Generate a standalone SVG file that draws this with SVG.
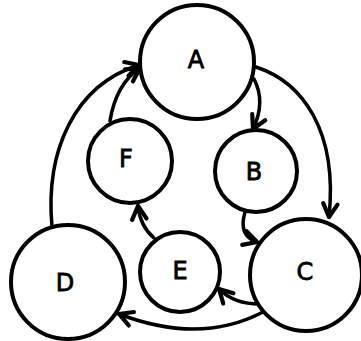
<svg xmlns="http://www.w3.org/2000/svg" width="361" height="341" viewBox="0 0 361 341">
<style>
.n{fill:#fff;stroke:#000;stroke-width:4}
.t{font-family:"DejaVu Sans",sans-serif;font-size:24px;text-anchor:middle;dominant-baseline:central;fill:#000;stroke:#000;stroke-width:0.8}
.e{fill:none;stroke:#000;stroke-width:3.5;stroke-linecap:round;marker-end:url(#ah)}
</style>
<defs>
<marker id="ah" markerUnits="userSpaceOnUse" markerWidth="24" markerHeight="24" viewBox="-14 -10 18 20" refX="0" refY="0" orient="auto">
<path d="M -11 -6 L 0 0 L -11 6" fill="none" stroke="#000" stroke-width="3.5" stroke-linecap="round" stroke-linejoin="round"/>
</marker>
</defs>
<g id="edges">
<path class="e" d="M 52 227 C 45 150, 75 85, 139 65"/>
<path class="e" d="M 110 121 C 114 96, 125 78, 140 68"/>
<path class="e" d="M 254 79 Q 266 102 253 129"/>
<path class="e" d="M 256 67 C 302 82, 338 130, 329 217"/>
<path class="e" d="M 245 212 Q 238 236 257 242"/>
<path class="e" d="M 263 304 Q 235 305 219 289"/>
<path class="e" d="M 263 312 Q 200 345 119 314"/>
<path class="e" d="M 154 238 Q 140 226 138 206"/>
</g>
<g id="A"><circle class="n" cx="197" cy="62" r="57"/><text class="t" x="196" y="60">A</text></g>
<g id="B"><circle class="n" cx="256" cy="171" r="41"/><text class="t" x="254" y="172">B</text></g>
<g id="C"><circle class="n" cx="306" cy="275" r="56"/><text class="t" x="305" y="272">C</text></g>
<g id="D"><circle class="n" cx="68" cy="282" r="57"/><text class="t" x="65" y="283">D</text></g>
<g id="E"><circle class="n" cx="180" cy="272" r="40"/><text class="t" x="180" y="271">E</text></g>
<g id="F"><circle class="n" cx="130" cy="161" r="42"/><text class="t" x="126" y="159">F</text></g>
</svg>
